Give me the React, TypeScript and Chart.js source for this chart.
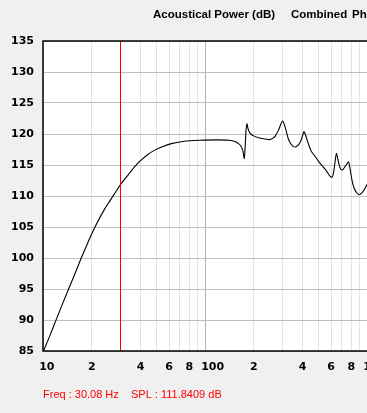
import React, { useEffect, useRef } from "react";
import { Chart, registerables } from "chart.js";

Chart.register(...registerables);

const freqs = [
  10, 11, 12, 13, 14.5, 16, 17.1, 18.8, 20, 21.5, 23.9, 25.7, 27.6, 30.08, 32.6, 34.5, 36.7, 40, 44.4, 49, 55, 62, 73, 93,
  120, 140, 153, 160, 166, 171, 175, 177, 179, 181.5, 184, 190, 200, 214, 235, 250, 262, 272, 285, 302, 310, 317, 327,
  337, 350, 362, 376, 389, 400, 408, 415, 430, 449, 475, 505, 556, 606, 620, 635, 648, 660, 675, 690, 707, 725, 745,
  769, 790, 810, 834, 860, 896, 930, 962, 1000,
];
const spl = [
  84.8, 87.4, 89.9, 92.2, 95.2, 97.9, 99.8, 102.3, 103.9, 105.6, 107.8, 109.1, 110.35, 111.84, 113.0, 113.8, 114.7, 115.7,
  116.7, 117.4, 118.0, 118.45, 118.8, 119.0, 119.05, 119.0, 118.8, 118.5, 118.1, 117.4, 116.0, 118.0, 120.5, 121.7,
  120.9, 120.1, 119.7, 119.4, 119.2, 119.1, 119.3, 119.7, 120.7, 122.1, 121.4, 120.5, 119.2, 118.5, 118.0, 117.9, 118.2,
  118.8, 119.7, 120.4, 120.0, 118.8, 117.4, 116.5, 115.5, 114.2, 113.0, 113.6, 115.5, 116.9, 116.0, 114.9, 114.3, 114.2,
  114.6, 115.0, 115.5, 114.0, 112.4, 111.2, 110.6, 110.2, 110.5, 111.0, 111.9,
];

const xGridValues = [10, 20, 30, 40, 50, 60, 70, 80, 90, 100, 200, 300, 400, 500, 600, 700, 800, 900, 1000];
const xLabelValues = [10, 20, 40, 60, 80, 100, 200, 400, 600, 800, 1000];
const xLabels = ["10", "2", "4", "6", "8", "100", "2", "4", "6", "8", "1000"];
const yMin = 85;
const yMax = 135;
const yStep = 5;

const cursorFreq = 30.08;
const cursorSpl = 111.8409;
const titleParts = ["Acoustical Power (dB)", "Combined", "Phase"];
const freqText = `Freq : ${cursorFreq.toFixed(2)} Hz`;
const splText = `SPL : ${cursorSpl.toFixed(4)} dB`;

const W = 367;
const H = 413;

export default function App() {
  const ref = useRef<HTMLCanvasElement | null>(null);

  useEffect(() => {
    if (!ref.current) return;
    const overlay = {
      id: "overlay",
      beforeDraw(chart: any) {
        const { ctx, chartArea } = chart;
        ctx.save();
        ctx.fillStyle = "#ffffff";
        ctx.fillRect(chartArea.left, chartArea.top, chartArea.right - chartArea.left, chartArea.bottom - chartArea.top);
        ctx.restore();
      },
      afterDatasetsDraw(chart: any) {
        const { ctx, chartArea, scales } = chart;
        const xs = scales.x;
        ctx.save();
        const cx = Math.round(xs.getPixelForValue(cursorFreq)) + 0.5;
        ctx.strokeStyle = "#ff0000";
        ctx.lineWidth = 1;
        ctx.beginPath();
        ctx.moveTo(cx, chartArea.top);
        ctx.lineTo(cx, chartArea.bottom);
        ctx.stroke();
        ctx.restore();
      },
      afterDraw(chart: any) {
        const { ctx, chartArea, scales } = chart;
        const xs = scales.x;
        ctx.save();
        ctx.strokeStyle = "#000000";
        ctx.lineWidth = 1.5;
        ctx.beginPath();
        ctx.moveTo(chartArea.right + 2, chartArea.top);
        ctx.lineTo(chartArea.left, chartArea.top);
        ctx.lineTo(chartArea.left, chartArea.bottom);
        ctx.lineTo(chartArea.right + 2, chartArea.bottom);
        ctx.stroke();
        ctx.fillStyle = "#000000";
        ctx.font = "bold 11px 'DejaVu Sans'";
        ctx.textAlign = "left";
        ctx.textBaseline = "middle";
        xLabelValues.forEach((v, i) => {
          const lab = xLabels[i];
          const px = xs.getPixelForValue(v);
          const half = ctx.measureText(lab[0]).width / 2;
          ctx.fillText(lab, px - half, chartArea.bottom + 16);
        });
        ctx.font = "bold 11.5px 'Liberation Sans'";
        const titleX = [153, 291, 352];
        titleParts.forEach((t, i) => ctx.fillText(t, titleX[i], 15));
        ctx.font = "11px 'Liberation Sans'";
        ctx.fillStyle = "#ff0000";
        ctx.fillText(freqText, 43, 395);
        ctx.fillText(splText, 131, 395);
        ctx.restore();
      },
    };

    const chart = new Chart(ref.current, {
      type: "line",
      data: {
        datasets: [
          {
            data: freqs.map((f, i) => ({ x: f, y: spl[i] })),
            borderColor: "#000000",
            borderWidth: 1.1,
            pointRadius: 0,
            cubicInterpolationMode: "monotone",
            fill: false,
          },
        ],
      },
      options: {
        animation: false,
        responsive: false,
        devicePixelRatio: 1,
        layout: { padding: { top: 41, right: 0, bottom: 0, left: 0 } },
        plugins: { legend: { display: false }, title: { display: false }, tooltip: { enabled: false } },
        scales: {
          x: {
            type: "logarithmic",
            min: 10,
            max: 1000,
            afterBuildTicks: (scale: any) => {
              scale.ticks = xGridValues.map((v) => ({ value: v }));
            },
            afterFit: (scale: any) => {
              scale.height = H - 351;
            },
            ticks: { display: false },
            border: { display: false },
            grid: {
              drawTicks: false,
              lineWidth: 1,
              color: (c: any) => {
                const v = c.tick ? c.tick.value : 0;
                return v === 100 || v === 1000 ? "#b4b4b4" : "#e3e3e3";
              },
            },
          },
          y: {
            type: "linear",
            min: yMin,
            max: yMax,
            afterFit: (scale: any) => {
              scale.width = 43;
            },
            ticks: {
              stepSize: yStep,
              color: "#000000",
              padding: 9,
              font: { family: "'DejaVu Sans'", size: 11, weight: "bold" },
            },
            border: { display: false },
            grid: {
              drawTicks: false,
              lineWidth: 1,
              color: "#c0c0c0",
            },
          },
        },
      },
      plugins: [overlay],
    } as any);
    return () => chart.destroy();
  }, []);

  return (
    <div style={{ position: "fixed", left: 0, top: 0, width: W, height: H, background: "#f0f0f0" }}>
      <canvas ref={ref} width={W} height={H} style={{ display: "block" }} />
    </div>
  );
}
